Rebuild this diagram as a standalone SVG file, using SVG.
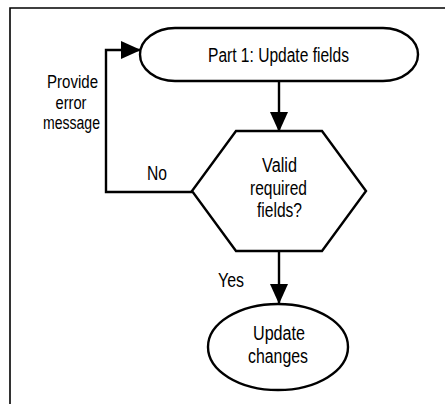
<svg xmlns="http://www.w3.org/2000/svg" width="445" height="404" viewBox="0 0 445 404">
<style>
.shape{fill:#fff;stroke:#000;stroke-width:2.4}
.conn{fill:none;stroke:#000;stroke-width:2.4}
.frame{fill:none;stroke:#000;stroke-width:1.6}
text{font-family:"Liberation Sans Narrow","Liberation Sans",Arial,sans-serif;font-size:20px;fill:#000;text-anchor:middle}
.side{font-size:18px}
</style>
<defs>
<marker id="arrow" viewBox="0 0 20 18" refX="19" refY="9" markerWidth="20" markerHeight="18" markerUnits="userSpaceOnUse" orient="auto">
<path d="M0,0 L20,9 L0,18 Z" fill="#000"/>
</marker>
</defs>
<rect width="445" height="404" fill="#fff"/>
<path class="frame" d="M10,404 V8 H445"/>
<g id="connectors">
<line class="conn" x1="279" y1="81" x2="279" y2="131" marker-end="url(#arrow)"/>
<line class="conn" x1="279" y1="251" x2="279" y2="303" marker-end="url(#arrow)"/>
<polyline class="conn" points="192,192 106,192 106,50 140,50" marker-end="url(#arrow)"/>
<text class="side" x="72.5" y="88" textLength="51" lengthAdjust="spacingAndGlyphs">Provide</text>
<text class="side" x="71" y="108.5" textLength="31" lengthAdjust="spacingAndGlyphs">error</text>
<text class="side" x="71.5" y="129" textLength="57" lengthAdjust="spacingAndGlyphs">message</text>
<text x="157" y="180" textLength="20" lengthAdjust="spacingAndGlyphs">No</text>
<text x="231" y="287" textLength="26" lengthAdjust="spacingAndGlyphs">Yes</text>
</g>
<g id="start">
<path class="shape" d="M175,28 H383 A35,26.5 0 0 1 383,81 H175 A35,26.5 0 0 1 175,28 Z"/>
<text x="278.5" y="62" textLength="141" lengthAdjust="spacingAndGlyphs">Part 1: Update fields</text>
</g>
<g id="decision">
<polygon class="shape" points="236,131 322,131 366,191 322,251 236,251 192,191"/>
<text x="279.5" y="172" textLength="35" lengthAdjust="spacingAndGlyphs">Valid</text>
<text x="278.5" y="194.5" textLength="57" lengthAdjust="spacingAndGlyphs">required</text>
<text x="279.5" y="217" textLength="45" lengthAdjust="spacingAndGlyphs">fields?</text>
</g>
<g id="end">
<ellipse class="shape" cx="278" cy="347" rx="70" ry="43"/>
<text x="279" y="340" textLength="52" lengthAdjust="spacingAndGlyphs">Update</text>
<text x="278" y="362.5" textLength="60" lengthAdjust="spacingAndGlyphs">changes</text>
</g>
</svg>
